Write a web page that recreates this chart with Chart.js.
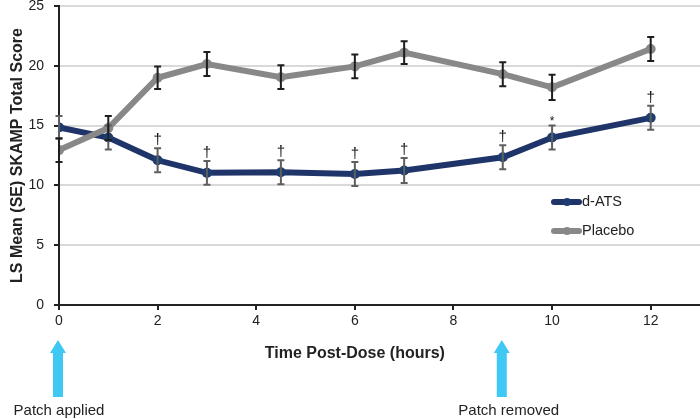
<!DOCTYPE html>
<html>
<head>
<meta charset="utf-8">
<script src="https://cdn.jsdelivr.net/npm/chart.js@4/dist/chart.umd.min.js"></script>
<style>
  html, body { margin: 0; padding: 0; background: #fff; }
  #wrap { width: 700px; height: 419px; }
</style>
</head>
<body>
<div id="wrap"><canvas id="myChart" width="700" height="419"></canvas></div>
<script>
// values
const hours = [0, 1, 2, 3, 4.5, 6, 7, 9, 10, 12];
const datsMean = [14.85, 14.0, 12.1, 11.05, 11.1, 10.95, 11.25, 12.35, 14.0, 15.65];
const datsSE = [0.95, 1.0, 1.0, 1.0, 1.0, 1.0, 1.05, 1.0, 1.0, 1.0];
const placeboMean = [12.95, 14.8, 19.0, 20.15, 19.05, 19.95, 21.1, 19.3, 18.2, 21.4];
const placeboSE = [1.0, 1.0, 0.95, 1.0, 1.0, 1.0, 0.95, 1.0, 1.05, 1.0];
const sigMarks = ['', '', '†', '†', '†', '†', '†', '†', '*', '†'];
const xTickValues = [0, 2, 4, 6, 8, 10, 12];
const eventHours = [0, 9];
const eventLabels = ['Patch applied', 'Patch removed'];

const navy = '#1f3468';
const grey = '#888888';
const font = 'Liberation Sans, Arial, sans-serif';

function toPoints(ys) {
    return hours.map((h, i) => ({ x: h, y: ys[i] }));
}

// error bars + significance marks on top of the lines
const errorBars = {
    id: 'errorBars',
    afterDatasetsDraw(chart) {
        const ctx = chart.ctx;
        const y = chart.scales.y;
        chart.data.datasets.forEach((ds, di) => {
            const meta = chart.getDatasetMeta(di);
            ctx.save();
            ctx.strokeStyle = ds.barColor;
            ctx.lineWidth = 2;
            meta.data.forEach((pt, i) => {
                const top = y.getPixelForValue(ds.data[i].y + ds.se[i]);
                const bot = y.getPixelForValue(ds.data[i].y - ds.se[i]);
                ctx.beginPath();
                ctx.moveTo(pt.x, top); ctx.lineTo(pt.x, bot);
                ctx.moveTo(pt.x - 3.5, top); ctx.lineTo(pt.x + 3.5, top);
                ctx.moveTo(pt.x - 3.5, bot); ctx.lineTo(pt.x + 3.5, bot);
                ctx.stroke();
                if (ds.marks && ds.marks[i]) {
                    ctx.fillStyle = '#111';
                    ctx.textAlign = 'center';
                    ctx.textBaseline = 'alphabetic';
                    if (ds.marks[i] === '*') {
                        ctx.font = '12px ' + font;
                        ctx.fillText('*', pt.x, top - 1);
                    } else {
                        ctx.font = '15px ' + font;
                        ctx.fillText(ds.marks[i], pt.x, top - 4);
                    }
                }
            });
            ctx.restore();
        });
    }
};

// legend, arrows and x title drawn by hand
const extras = {
    id: 'extras',
    afterDraw(chart) {
        const ctx = chart.ctx;
        const x = chart.scales.x;
        ctx.save();

        // legend inside the plot
        chart.data.datasets.forEach((ds, i) => {
            const ly = 202 + i * 29;
            const lx = 552;
            ctx.strokeStyle = ds.borderColor;
            ctx.lineWidth = 6;
            ctx.lineCap = 'round';
            ctx.beginPath();
            ctx.moveTo(lx + 2, ly); ctx.lineTo(lx + 27, ly);
            ctx.stroke();
            ctx.fillStyle = ds.pointBackgroundColor;
            ctx.beginPath();
            ctx.arc(lx + 15, ly, 4, 0, Math.PI * 2);
            ctx.fill();
            ctx.fillStyle = '#222';
            ctx.font = '14.5px ' + font;
            ctx.textAlign = 'left';
            ctx.textBaseline = 'middle';
            ctx.fillText(ds.label, lx + 30, ly);
        });

        // x axis title
        ctx.fillStyle = '#222';
        ctx.font = 'bold 16px ' + font;
        ctx.textAlign = 'center';
        ctx.textBaseline = 'middle';
        ctx.fillText('Time Post-Dose (hours)', x.getPixelForValue(6), 354);

        // patch arrows
        eventHours.forEach((h, i) => {
            const cx = x.getPixelForValue(h) - 1;
            ctx.fillStyle = '#40c8f4';
            ctx.beginPath();
            ctx.moveTo(cx, 340);
            ctx.lineTo(cx + 8, 353);
            ctx.lineTo(cx + 5, 353);
            ctx.lineTo(cx + 5, 397);
            ctx.lineTo(cx - 5, 397);
            ctx.lineTo(cx - 5, 353);
            ctx.lineTo(cx - 8, 353);
            ctx.closePath();
            ctx.fill();
            ctx.fillStyle = '#222';
            ctx.font = '15px ' + font;
            ctx.textAlign = 'center';
            ctx.fillText(eventLabels[i], cx + (i === 0 ? 1 : 7), 411);
        });
        ctx.restore();
    }
};

const ctx = document.getElementById('myChart');

new Chart(ctx, {
    type: 'line',
    data: {
        datasets: [{
            label: 'd-ATS',
            data: toPoints(datsMean),
            se: datsSE,
            marks: sigMarks,
            barColor: '#5f5f5f',
            borderColor: navy,
            backgroundColor: navy,
            pointBackgroundColor: '#1d3d70',
            pointBorderWidth: 0,
            pointRadius: 5,
            borderWidth: 6,
            order: 1
        }, {
            label: 'Placebo',
            data: toPoints(placeboMean),
            se: placeboSE,
            barColor: '#1e1e1e',
            borderColor: grey,
            backgroundColor: grey,
            pointBackgroundColor: grey,
            pointBorderWidth: 0,
            pointRadius: 5,
            borderWidth: 6,
            order: 0
        }]
    },
    options: {
        responsive: false,
        animation: false,
        layout: { autoPadding: false, padding: { top: 6, right: 0, left: 0, bottom: 0 } },
        plugins: {
            legend: { display: false },
            tooltip: { enabled: false }
        },
        scales: {
            x: {
                type: 'linear',
                min: 0,
                max: 13,
                afterBuildTicks: (axis) => {
                    axis.ticks = xTickValues.map(v => ({ value: v }));
                },
                afterFit: (axis) => {
                    axis.height = 114;
                    axis.paddingLeft = 0;
                    axis.paddingRight = 0;
                },
                border: { color: '#222', width: 2 },
                grid: { drawOnChartArea: false, tickLength: 5, tickColor: '#222', lineWidth: 2 },
                ticks: { color: '#222', font: { family: font, size: 14 }, padding: 3, maxRotation: 0 }
            },
            y: {
                min: 0,
                max: 25,
                ticks: { stepSize: 5, color: '#222', font: { family: font, size: 14 }, padding: 10 },
                afterFit: (axis) => {
                    axis.width = 59;
                    axis.paddingTop = 0;
                    axis.paddingBottom = 0;
                },
                border: { color: '#222', width: 2 },
                grid: { color: '#d9d9d9', lineWidth: 2, tickLength: 5, tickColor: '#222' },
                title: {
                    display: true,
                    text: 'LS Mean (SE) SKAMP Total Score',
                    color: '#222',
                    font: { family: font, size: 16, weight: 'bold' },
                    padding: { top: 8, bottom: 0 }
                }
            }
        }
    },
    plugins: [errorBars, extras]
});
</script>
</body>
</html>
